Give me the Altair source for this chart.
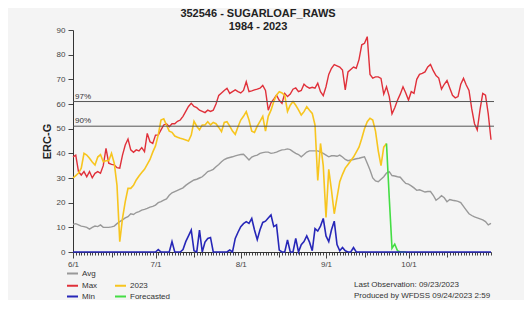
import altair as alt
import pandas as pd

title_lines = ["352546 - SUGARLOAF_RAWS", "1984 - 2023"]
month_days = [0, 30, 61, 92, 122]
month_labels = ["6/1", "7/1", "8/1", "9/1", "10/1"]
mid_days = [14, 44, 75, 106, 136]
all_days = list(range(0, 153))

max_vals = [
    38.6, 39.3, 32.6, 31.2, 32.6, 30.5, 32.6, 30.1, 31.9, 32.6,
    31.9, 35.0, 42.0, 36.0, 35.5, 35.3, 34.2, 34.0, 39.3, 43.4,
    45.8, 41.4, 40.4, 41.4, 41.0, 42.3, 40.7, 48.1, 44.7, 44.0,
    47.4, 47.4, 49.5, 51.5, 52.0, 50.8, 52.0, 52.0, 53.0, 53.5,
    55.0, 57.0, 59.0, 60.3, 59.0, 58.5, 57.5, 57.0, 56.5, 57.5,
    57.0, 57.5, 60.0, 63.5, 64.5, 65.5, 66.4, 64.3, 65.0, 65.7,
    65.0, 64.5, 65.5, 69.0, 65.0, 65.3, 65.7, 66.0, 66.4, 67.5,
    65.5, 57.5, 60.5, 62.0, 63.6, 61.5, 60.3, 64.3, 63.0, 64.0,
    66.0, 66.5, 65.0, 65.5, 68.0, 67.0, 66.4, 66.8, 66.4, 68.4,
    65.0, 63.4, 67.0, 72.0, 74.5, 76.0, 75.5, 75.0, 73.8, 65.7,
    73.0, 74.0, 75.0, 74.5, 78.0, 84.0, 84.6, 87.3, 72.0, 70.5,
    71.0, 71.0, 70.4, 64.0, 67.0, 63.0, 56.0, 58.5, 61.5, 64.0,
    67.0, 64.5, 61.6, 65.0, 64.3, 70.0, 72.0, 72.4, 73.0, 75.0,
    76.0, 73.5, 71.5, 70.5, 66.0, 68.0, 69.5, 66.5, 63.5, 62.5,
    63.0, 68.0, 70.4, 67.7, 65.5, 58.0, 52.0, 49.5, 57.6, 64.3,
    63.6, 56.0, 45.5,
]

avg_vals = [
    11.2, 11.5, 11.0, 10.5, 10.3, 10.0, 9.3, 10.0, 10.5, 10.3,
    11.0, 10.0, 10.0, 10.0, 10.2, 10.5, 11.5, 12.3, 13.0, 13.8,
    14.3, 15.5, 15.2, 16.0, 16.4, 17.0, 17.3, 17.7, 18.2, 18.5,
    19.0, 20.0, 20.4, 21.0, 21.5, 23.0, 24.0, 24.5, 25.0, 25.5,
    26.0, 27.0, 27.8, 28.5, 29.2, 29.5, 30.0, 30.5, 31.5, 32.6,
    33.0, 33.5, 34.6, 35.5, 36.6, 37.5, 38.0, 38.3, 38.6, 39.0,
    39.3, 39.5, 39.6, 38.5, 37.3, 38.5, 39.0, 39.3, 40.0, 40.3,
    40.5, 40.5, 40.0, 40.2, 40.5, 41.0, 41.4, 41.5, 41.8, 41.5,
    40.7, 40.0, 39.5, 38.6, 39.5, 40.5, 41.0, 41.0, 41.0, 41.0,
    40.5, 40.0, 39.3, 38.6, 39.0, 39.0, 38.8, 39.3, 38.5, 37.5,
    37.0, 37.3, 37.5, 37.8, 38.0, 38.3, 38.6, 36.0, 33.2, 30.0,
    28.8, 28.5, 29.5, 30.5, 32.0, 32.6, 31.0, 30.8, 30.5, 30.3,
    29.0, 27.8, 27.5, 26.8, 26.0, 25.0, 25.2, 24.8, 24.3, 24.5,
    24.5, 23.0, 21.0, 21.8, 22.8, 22.0, 20.4, 21.3, 21.0, 20.8,
    20.5, 20.0, 18.5, 17.0, 15.5, 14.8, 14.2, 13.8, 13.4, 13.0,
    12.3, 11.0, 11.6,
]

min_vals = [
    0, 0, 0, 0, 0, 0, 0, 0, 0, 0,
    0, 0, 0, 0, 0, 0, 0, 0, 0, 0,
    0, 0, 0, 0, 0, 0, 0, 0, 0, 0,
    0, 1.0, 0, 0, 0, 0, 4.2, 0, 0, 0,
    1.0, 4.2, 6.5, 8.9, 0.5, 0, 8.9, 0, 4.0, 5.5,
    5.9, 0, 0, 0, 0, 0, 0, 0.8, 0, 5.5,
    8.0, 10.3, 11.5, 12.3, 11.6, 13.6, 8.9, 5.0, 9.0, 12.0,
    12.5, 13.8, 15.0, 10.3, 11.0, 0.8, 0, 0, 4.9, 0,
    0, 5.5, 0, 3.0, 4.2, 6.5, 4.0, 0.5, 9.5, 8.5,
    10.5, 13.6, 6.5, 4.2, 9.0, 12.5, 3.0, 0.5, 1.8, 0.5,
    0, 0, 1.8, 0, 0, 0, 0, 0, 0, 0,
    0, 0, 0, 0, 0, 0, 0, 0, 0, 0,
    0, 0, 0, 0, 0, 0, 0, 0, 0, 0,
    0, 0, 0, 0, 0, 0, 0, 0, 0, 0,
    0, 0, 0, 0, 0, 0, 0, 0, 0, 0,
    0, 0, 0,
]

y2023_vals = [
    30.0, 31.0, 32.0, 34.0, 40.0, 39.3, 38.0, 36.5, 35.3, 38.5,
    39.5, 36.6, 37.0, 37.0, 40.0, 36.0, 27.0, 4.2, 13.6, 20.4,
    25.8, 25.8, 27.0, 29.2, 30.8, 32.2, 33.5, 35.5, 37.5, 40.5,
    43.0, 47.5, 53.5, 54.0, 51.5, 49.0, 48.5, 47.0, 46.5, 46.1,
    45.8, 45.4, 45.0, 47.4, 53.0, 51.0, 49.5, 51.5, 51.5, 52.8,
    51.5, 52.5, 52.0, 50.5, 48.8, 52.5, 52.8, 51.0, 49.0, 47.7,
    50.8, 53.5, 55.0, 56.9, 53.5, 49.0, 48.5, 51.0, 53.0, 55.0,
    49.0, 55.0, 57.5, 61.0, 63.6, 65.0, 64.5, 63.5, 57.0, 59.5,
    61.0, 59.5, 57.6, 55.5, 56.9, 58.9, 57.5, 56.2, 51.5, 29.0,
    44.0, 35.0, 14.0, 33.5, 25.0, 15.5, 22.0, 28.5, 31.5, 34.0,
    35.5, 37.0, 38.5, 40.5, 42.5, 46.0, 50.0, 52.8, 54.2, 53.5,
    49.0, 41.0, 35.0, 42.5, 44.0,
]

fc_start = 114
fc_vals = [44.0, 22.0, 1.5, 3.2, 0.5, 0.0, 0.0, 0.0]

pct_labels = ["97%", "90%"]
pct_values = [61, 51]
info_lines = ["Last Observation:  09/23/2023", "Produced by WFDSS  09/24/2023  2:59"]

series_names = ["Max", "Min", "2023", "Forecasted"]
series_colors = ["#e0303a", "#2727b8", "#f7c51e", "#44dd44"]

rows = []
for name, vals, start in [("Max", max_vals, 0), ("2023", y2023_vals, 0),
                          ("Forecasted", fc_vals, fc_start), ("Min", min_vals, 0)]:
    for i, v in enumerate(vals):
        rows.append({"day": start + i, "erc": v, "series": name})
df = pd.DataFrame(rows)
avg_df = pd.DataFrame({"day": list(range(len(avg_vals))), "erc": avg_vals, "series": "Avg"})
pct_df = pd.DataFrame({"label": pct_labels, "erc": pct_values})
major_df = pd.DataFrame({"day": month_days})
mid_df = pd.DataFrame({"day": mid_days})

label_expr = ""
for d, l in zip(month_days, month_labels):
    label_expr += f"datum.value == {d} ? '{l}' : "
label_expr += "''"

font = "Liberation Sans"
x_scale = alt.Scale(domain=[0, 152], nice=False, zero=False)

x_enc = alt.X(
    "day:Q",
    scale=x_scale,
    axis=alt.Axis(
        values=all_days,
        labelExpr=label_expr,
        labelOverlap=False,
        labelFlush=False,
        grid=False,
        title=None,
        orient="bottom",
        tickSize=3,
        tickColor="#444",
        domainColor="#333",
        labelFontSize=8,
        labelColor="#444",
        labelPadding=5,
    ),
)
y_enc = alt.Y(
    "erc:Q",
    scale=alt.Scale(domain=[0, 90], nice=False),
    axis=alt.Axis(
        values=list(range(0, 91, 10)),
        grid=False,
        title="ERC-G",
        titleFontSize=11,
        titleFontWeight="bold",
        titleColor="#222",
        titlePadding=4,
        tickSize=5,
        tickColor="#444",
        domainColor="#333",
        labelFontSize=8,
        labelColor="#444",
        labelPadding=3,
    ),
)

color_legend = alt.Legend(
    orient="none", legendX=-7, legendY=249, columns=2, title=None,
    symbolType="stroke", symbolSize=121, symbolStrokeWidth=2,
    labelFontSize=8, labelColor="#333", labelFont=font,
    rowPadding=0, columnPadding=13, labelOffset=3, padding=0,
)
color_enc = alt.Color(
    "series:N",
    scale=alt.Scale(domain=series_names, range=series_colors),
    legend=color_legend,
)

avg_line = alt.Chart(avg_df).mark_line(strokeWidth=1.4).encode(
    x=x_enc, y=y_enc,
    stroke=alt.Stroke(
        "series:N",
        scale=alt.Scale(domain=["Avg"], range=["#999999"]),
        legend=alt.Legend(
            orient="none", legendX=-7, legendY=237, title=None,
            symbolType="stroke", symbolSize=121, symbolStrokeWidth=2,
            labelFontSize=8, labelColor="#333", labelFont=font,
            labelOffset=3, padding=0,
        ),
    ),
)


def series_line(name, width):
    return alt.Chart(df).transform_filter(
        alt.datum.series == name
    ).mark_line(strokeWidth=width).encode(x=x_enc, y=y_enc, color=color_enc)


rules = alt.Chart(pct_df).mark_rule(color="#555", strokeWidth=1).encode(
    x=alt.value(0), x2=alt.value(421), y=y_enc
)
pct_text = alt.Chart(pct_df).mark_text(
    align="left", baseline="middle", dx=2, dy=-5, fontSize=8, color="#333", font=font
).encode(x=alt.value(0), y=y_enc, text="label:N")

info1 = alt.Chart(pd.DataFrame({"t": [info_lines[0]]})).mark_text(
    align="left", baseline="middle", fontSize=8, color="#333", font=font
).encode(x=alt.value(281), y=alt.value(255), text="t:N")
info2 = alt.Chart(pd.DataFrame({"t": [info_lines[1]]})).mark_text(
    align="left", baseline="middle", fontSize=8, color="#333", font=font
).encode(x=alt.value(281), y=alt.value(266), text="t:N")

main = alt.layer(
    avg_line,
    series_line("Max", 1.4),
    series_line("2023", 1.6),
    series_line("Forecasted", 1.6),
    series_line("Min", 1.6),
    rules, pct_text, info1, info2,
)


def tick_layer(data, size):
    return alt.Chart(data).mark_point(opacity=0).encode(
        x=alt.X("day:Q", scale=x_scale, axis=alt.Axis(
            values=list(data["day"]), labels=False, domain=False, grid=False,
            title=None, orient="bottom", tickSize=size, tickColor="#444",
        )),
        y=alt.value(222),
    )


chart = alt.layer(
    main, tick_layer(major_df, 6), tick_layer(mid_df, 5)
).resolve_axis(x="independent").properties(
    width=418,
    height=222,
    autosize=alt.AutoSizeParams(type="none"),
    padding={"left": 65, "top": 22, "right": 33, "bottom": 48},
    title=alt.TitleParams(
        text=title_lines, fontSize=11, font=font, fontWeight="bold",
        color="#222", anchor="middle", dx=-24, lineHeight=13,
        baseline="bottom", offset=-17,
    ),
).configure(
    background="#f4f4f4",
    font=font,
).configure_view(stroke=None)

chart.save("out.html", embed_options={"renderer": "svg", "actions": False})
